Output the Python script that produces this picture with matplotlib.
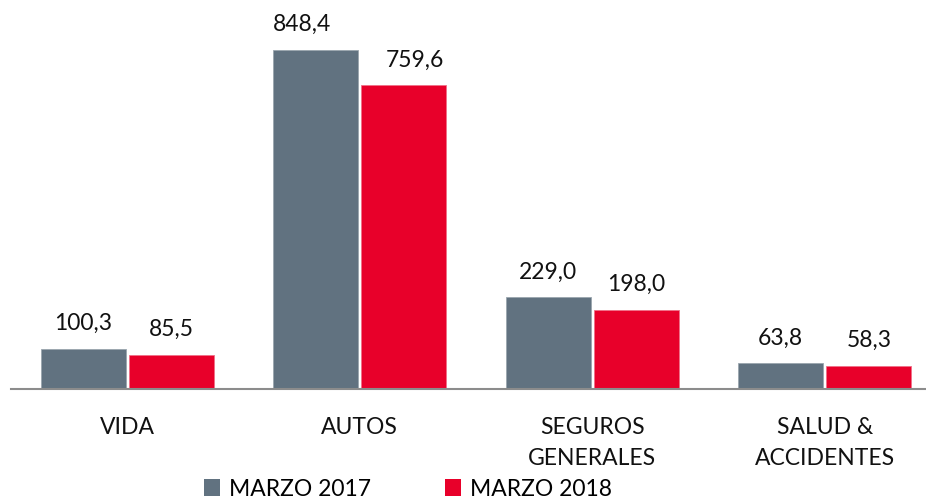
import matplotlib
matplotlib.use("Agg")
import matplotlib.pyplot as plt
import numpy as np
from matplotlib.patches import Patch

categories = ["VIDA", "AUTOS", "SEGUROS\nGENERALES", "SALUD &\nACCIDENTES"]
series_names = ["MARZO 2017", "MARZO 2018"]
marzo_2017 = [100.3, 848.4, 229.0, 63.8]
marzo_2018 = [85.5, 759.6, 198.0, 58.3]
colors = ["#617280", "#E8002A"]

plt.rcParams['font.family'] = ['Lato', 'DejaVu Sans']
FS = 16.5

W, H = 926, 499
fig = plt.figure(figsize=(W/100, H/100), dpi=100)
ax = fig.add_axes([11/W, 110/H, 930/W, 389/H])

x = np.arange(len(categories))
bw = 0.365
off = 0.19
b1 = ax.bar(x - off, marzo_2017, bw, color=colors[0], edgecolor="#9aa5ae", linewidth=0.6)
b2 = ax.bar(x + off, marzo_2018, bw, color=colors[1], edgecolor="#f07088", linewidth=0.6)

def fmt(v):
    return f"{v:.1f}".replace(".", ",")

# small horizontal nudges of the AUTOS labels, as in the original
nudge = {(0, 1): -10, (1, 1): 8}
for si, (bars, vals) in enumerate(((b1, marzo_2017), (b2, marzo_2018))):
    for ci, (r, v) in enumerate(zip(bars, vals)):
        dx = nudge.get((si, ci), 0)
        ax.annotate(fmt(v), (r.get_x() + r.get_width()/2, v), xytext=(dx, 10.5),
                    textcoords="offset points", ha="center", va="bottom",
                    fontsize=FS, color="#111111")

ax.set_xlim(-0.5, 3.5)
ax.set_ylim(0, 973)
ax.set_xticks(x)
ax.set_xticklabels(categories, fontsize=FS, color="#111111", linespacing=1.62)
ax.tick_params(axis="x", length=0, pad=20)
ax.set_yticks([])
for s in ["top", "right", "left"]:
    ax.spines[s].set_visible(False)
ax.spines["bottom"].set_color("#8c8c8c")
ax.spines["bottom"].set_linewidth(1.5)

handles = [Patch(facecolor=c, edgecolor="none") for c in colors]
fig.legend(handles, series_names, loc="center", bbox_to_anchor=(408/W, (H-489)/H),
           ncol=2, frameon=False, fontsize=FS, handlelength=0.7, handleheight=0.7,
           handletextpad=0.4, columnspacing=3.2, borderpad=0)

fig.savefig("out.png", dpi=100)
